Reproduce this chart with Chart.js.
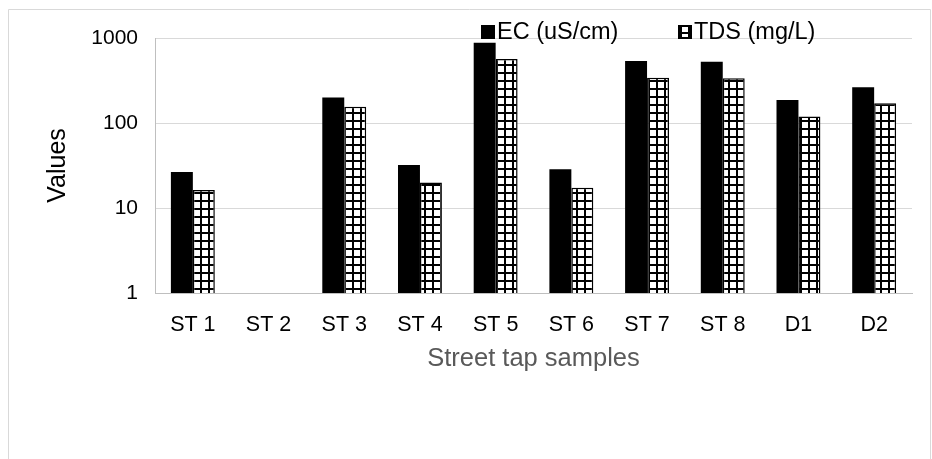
<!DOCTYPE html>
<html>
<head>
<meta charset="utf-8">
<script src="https://cdn.jsdelivr.net/npm/chart.js@4/dist/chart.umd.min.js"></script>
<style>
  html, body { margin: 0; padding: 0; background: #fff; }
  #wrap { width: 932px; height: 459px; position: relative; }
</style>
</head>
<body>
<div id="wrap"><canvas id="waterChart"></canvas></div>
<script>
// chart data
const samples = ['ST 1', 'ST 2', 'ST 3', 'ST 4', 'ST 5', 'ST 6', 'ST 7', 'ST 8', 'D1', 'D2']
const ecValues = [26.5, null, 200, 32, 880, 28.5, 535, 525, 186, 264]
const tdsValues = [16.3, null, 155, 20, 565, 17.3, 340, 336, 119, 171]
const seriesNames = ['EC (uS/cm)', 'TDS (mg/L)']
const yTicks = [1, 10, 100, 1000]

const FONT = "'Liberation Sans', Arial, sans-serif"
const legendX = [481, 678]

// little grid pattern used for the TDS bars
function gridPattern() {
    const tile = document.createElement('canvas')
    tile.width = 8
    tile.height = 8
    const c = tile.getContext('2d')
    c.fillStyle = '#fff'
    c.fillRect(0, 0, 8, 8)
    c.fillStyle = '#000'
    c.fillRect(0, 0, 8, 2)
    c.fillRect(0, 0, 2, 8)
    return c.createPattern(tile, 'repeat')
}

// legend sits over the top gridline, so it is drawn by hand
const legendPlugin = {
    id: 'customLegend',
    afterDraw(chart) {
        const ctx = chart.ctx
        ctx.save()
        ctx.font = '23.5px ' + FONT
        ctx.textBaseline = 'middle'
        const y = 32
        chart.data.datasets.forEach(function(ds, i) {
            const x = legendX[i]
            ctx.fillStyle = ds.backgroundColor
            ctx.fillRect(x, y - 7, 14, 14)
            if (ds.borderWidth) {
                ctx.strokeStyle = '#000'
                ctx.lineWidth = 2
                ctx.strokeRect(x + 1, y - 6, 12, 12)
            }
            ctx.fillStyle = '#000'
            ctx.fillText(ds.label, x + 16, y + 1)
        })
        ctx.restore()
    }
}

const framePlugin = {
    id: 'frame',
    beforeDraw(chart) {
        const ctx = chart.ctx
        ctx.save()
        ctx.fillStyle = '#fff'
        ctx.fillRect(0, 0, chart.width, chart.height)
        ctx.strokeStyle = '#d9d9d9'
        ctx.lineWidth = 1
        ctx.beginPath()
        ctx.moveTo(8.5, chart.height + 2)
        ctx.lineTo(8.5, 9.5)
        ctx.lineTo(930.5, 9.5)
        ctx.lineTo(930.5, chart.height + 2)
        ctx.stroke()
        ctx.restore()
    }
}

function drawWaterChart() {
    const canvas = document.getElementById('waterChart')
    new Chart(canvas, {
        type: 'bar',
        data: {
            labels: samples,
            datasets: [{
                label: seriesNames[0],
                data: ecValues,
                backgroundColor: '#000',
                borderWidth: 0
            }, {
                label: seriesNames[1],
                data: tdsValues,
                backgroundColor: gridPattern(),
                borderColor: '#000',
                borderWidth: 1.5
            }]
        },
        options: {
            responsive: true,
            maintainAspectRatio: false,
            animation: false,
            categoryPercentage: 0.58,
            barPercentage: 1,
            layout: { padding: { top: 38, right: 20, left: 0, bottom: 0 } },
            plugins: {
                legend: { display: false },
                tooltip: { enabled: false }
            },
            scales: {
                x: {
                    grid: { display: false, drawTicks: false },
                    border: { display: true, color: '#bfbfbf', width: 1 },
                    ticks: {
                        color: '#000',
                        font: { family: FONT, size: 21.5 },
                        padding: 19,
                        maxRotation: 0
                    },
                    title: {
                        display: true,
                        text: 'Street tap samples',
                        color: '#595959',
                        font: { family: FONT, size: 25.5 },
                        padding: { top: 0, bottom: 85 }
                    },
                    afterFit(scale) { scale.height = 166 }
                },
                y: {
                    type: 'logarithmic',
                    min: 1,
                    max: 1000,
                    grid: { color: '#d9d9d9', lineWidth: 1, drawTicks: false },
                    border: { display: true, color: '#bfbfbf', width: 1 },
                    afterBuildTicks(scale) {
                        scale.ticks = yTicks.map(function(v) { return { value: v } })
                    },
                    ticks: {
                        color: '#000',
                        font: { family: FONT, size: 21 },
                        padding: 17,
                        callback: function(v) { return String(v) }
                    },
                    title: {
                        display: true,
                        text: 'Values',
                        color: '#000',
                        font: { family: FONT, size: 25 },
                        padding: { top: 43, bottom: 0 }
                    },
                    afterFit(scale) { scale.width = 155 }
                }
            }
        },
        plugins: [framePlugin, legendPlugin]
    })
}

drawWaterChart()
</script>
</body>
</html>
